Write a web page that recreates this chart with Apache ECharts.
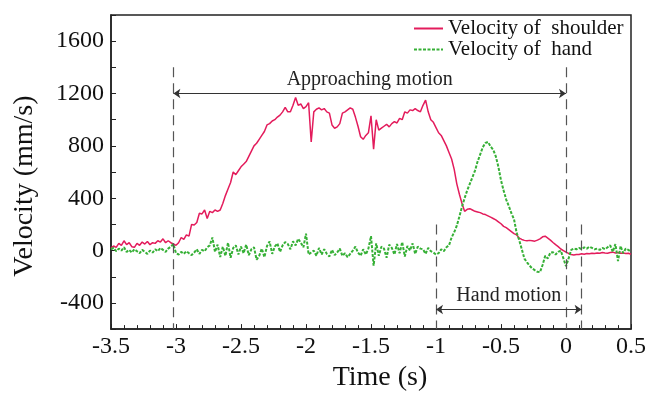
<!DOCTYPE html>
<html>
<head>
<meta charset="utf-8">
<script src="https://cdn.jsdelivr.net/npm/echarts@6/dist/echarts.min.js"></script>
<style>html,body{margin:0;padding:0;background:#fff}#c{width:650px;height:397px}</style>
</head>
<body>
<div id="c"></div>
<script>
// Time (s)
const time = [
-3.50,-3.48,-3.46,-3.44,-3.42,-3.40,-3.38,-3.36,-3.34,-3.32,
-3.30,-3.28,-3.26,-3.24,-3.22,-3.20,-3.18,-3.16,-3.14,-3.12,
-3.10,-3.08,-3.06,-3.04,-3.02,-3.00,-2.98,-2.96,-2.94,-2.92,
-2.90,-2.88,-2.86,-2.84,-2.82,-2.80,-2.78,-2.76,-2.74,-2.72,
-2.70,-2.68,-2.66,-2.64,-2.62,-2.60,-2.58,-2.56,-2.54,-2.52,
-2.50,-2.48,-2.46,-2.44,-2.42,-2.40,-2.38,-2.36,-2.34,-2.32,
-2.30,-2.28,-2.26,-2.24,-2.22,-2.20,-2.18,-2.16,-2.14,-2.12,
-2.10,-2.08,-2.06,-2.04,-2.02,-2.00,-1.98,-1.96,-1.94,-1.92,
-1.90,-1.88,-1.86,-1.84,-1.82,-1.80,-1.78,-1.76,-1.74,-1.72,
-1.70,-1.68,-1.66,-1.64,-1.62,-1.60,-1.58,-1.56,-1.54,-1.52,
-1.50,-1.48,-1.46,-1.44,-1.42,-1.40,-1.38,-1.36,-1.34,-1.32,
-1.30,-1.28,-1.26,-1.24,-1.22,-1.20,-1.18,-1.16,-1.14,-1.12,
-1.10,-1.08,-1.06,-1.04,-1.02,-1.00,-0.98,-0.96,-0.94,-0.92,
-0.90,-0.88,-0.86,-0.84,-0.82,-0.80,-0.78,-0.76,-0.74,-0.72,
-0.70,-0.68,-0.66,-0.64,-0.62,-0.60,-0.58,-0.56,-0.54,-0.52,
-0.50,-0.48,-0.46,-0.44,-0.42,-0.40,-0.38,-0.36,-0.34,-0.32,
-0.30,-0.28,-0.26,-0.24,-0.22,-0.20,-0.18,-0.16,-0.14,-0.12,
-0.10,-0.08,-0.06,-0.04,-0.02,0.00,0.02,0.04,0.06,0.08,
0.10,0.12,0.14,0.16,0.18,0.20,0.22,0.24,0.26,0.28,
0.30,0.32,0.34,0.36,0.38,0.40,0.42,0.44,0.46,0.48,
0.50
];

// Velocity of shoulder (mm/s)
const shoulder = [
20,35,25,55,40,75,45,60,30,25,
55,40,65,50,70,45,60,55,75,65,
90,60,75,60,50,40,60,100,85,120,
110,200,195,215,285,280,310,245,300,290,
310,300,310,360,420,470,520,600,580,610,
640,660,680,720,760,800,820,850,880,910,
960,970,990,1000,1020,1035,1060,1095,1060,1060,
1110,1170,1110,1120,1085,1100,1130,830,1060,1080,
1090,1075,1085,1060,1050,960,935,945,970,1050,
1060,1075,1090,1080,1020,950,870,850,880,900,
1030,775,1000,920,935,950,965,945,970,985,
975,1010,1000,1060,1050,1075,1070,1085,1070,1060,
1110,1150,1060,1000,980,940,900,880,840,800,
750,700,620,510,430,360,300,315,320,310,
300,295,290,280,275,265,255,245,235,220,
205,185,175,160,145,130,120,95,85,78,
75,78,75,72,80,90,105,110,95,80,
62,45,30,12,0,-12,-22,-30,-33,-30,
-30,-25,-28,-22,-25,-20,-22,-18,-20,-15,
-18,-20,-15,-12,-18,-15,-20,-18,-22,-20,
-28
];

// Velocity of hand (mm/s)
const hand = [
10,20,-5,15,0,25,-10,5,-15,10,
-5,-20,5,-10,-25,0,-15,10,-5,20,
5,-10,15,30,50,-20,-30,-10,-25,-5,
-20,-35,-15,10,-25,5,-5,25,40,100,
-10,45,-50,30,-40,60,-55,20,40,-30,
30,-20,45,-35,10,25,-70,-40,15,-50,
35,70,-25,30,55,-10,40,65,50,10,
70,40,90,60,25,130,-30,-15,0,-40,
20,-30,10,-25,-45,5,-35,-15,15,-40,
-20,-50,-25,0,30,-15,-40,10,-30,15,
110,-115,55,-40,30,15,-55,45,20,-30,
50,-20,65,-45,35,0,55,-25,30,15,
10,-25,20,-5,-15,-30,-20,10,-5,25,
40,100,140,190,260,336,400,460,510,560,
611,680,735,790,822,830,795,770,720,640,
536,460,390,340,285,240,137,80,10,-62,
-90,-115,-137,-150,-162,-165,-110,-40,-60,-15,
-12,-30,-10,0,-60,-120,-60,5,15,10,
20,10,25,15,30,20,10,15,5,20,
10,25,40,-10,50,-80,35,-20,15,5,
-10
];

const seriesNames = ['Velocity of  shoulder', 'Velocity of  hand'];
const yTickLabels = [-400, 0, 400, 800, 1200, 1600];

// Annotation positions (data units)
const approachStart = -3.02, approachEnd = 0, approachTop = 1400, approachArrowY = 1200;
const handStart = -1.0, handEnd = 0.12, handTop = 200, handArrowY = -450;
const yMin = -600, yMax = 1800;

const FONT = 'Liberation Serif';
const dash = {type: [10, 6], color: '#555', width: 1.2};
const arrowStyle = {type: 'solid', color: '#333', width: 1.2};

const chart = echarts.init(document.getElementById('c'), null, {renderer: 'canvas'});
chart.setOption({
  animation: false,
  backgroundColor: '#fff',
  textStyle: {fontFamily: FONT},
  grid: {left: 111, right: 19, top: 15, bottom: 61, show: true, borderColor: '#222', borderWidth: 1.5, backgroundColor: 'transparent'},
  legend: {
    orient: 'vertical', left: 413, top: 18, padding: 0, itemWidth: 29, itemHeight: 10, itemGap: 0,
    itemStyle: {opacity: 0, color: 'transparent', borderColor: 'transparent', borderWidth: 0},
    textStyle: {fontFamily: FONT, fontSize: 21, color: '#111', lineHeight: 19},
    data: seriesNames
  },
  xAxis: {
    type: 'value', min: -3.5, max: 0.5, interval: 0.5,
    name: 'Time (s)', nameLocation: 'middle', nameGap: 30,
    nameTextStyle: {fontFamily: FONT, fontSize: 28, color: '#111', padding: [0, 0, 0, 18]},
    axisLine: {onZero: false, lineStyle: {color: '#222', width: 1.5}},
    axisTick: {inside: true, length: 5, lineStyle: {color: '#222'}},
    minorTick: {show: true, splitNumber: 5, length: 4, lineStyle: {color: '#222'}},
    axisLabel: {fontFamily: FONT, fontSize: 24, color: '#111', margin: 6},
    splitLine: {show: false}
  },
  yAxis: {
    type: 'value', min: yMin, max: yMax, interval: 200,
    name: 'Velocity (mm/s)', nameLocation: 'middle', nameGap: 72,
    nameTextStyle: {fontFamily: FONT, fontSize: 28, color: '#111', padding: [0, 28, 0, 0]},
    axisLine: {onZero: false, lineStyle: {color: '#222', width: 1.5}},
    axisTick: {inside: true, length: 5, lineStyle: {color: '#222'}},
    axisLabel: {fontFamily: FONT, fontSize: 24, color: '#111', margin: 7,
      formatter: v => yTickLabels.indexOf(v) >= 0 ? String(v) : ''},
    splitLine: {show: false}
  },
  series: [
    {
      name: seriesNames[0], type: 'line', showSymbol: false, symbol: 'none',
      data: time.map((t, i) => [t, shoulder[i]]),
      lineStyle: {color: '#e31c5c', width: 1.5}, itemStyle: {color: '#e31c5c'},
      z: 3,
      markLine: {
        silent: true, symbol: 'none', animation: false,
        label: {show: false},
        data: [
          [{coord: [approachStart, approachTop], lineStyle: dash}, {coord: [approachStart, yMin]}],
          [{coord: [approachEnd, approachTop], lineStyle: dash}, {coord: [approachEnd, yMin]}],
          [{coord: [handStart, handTop], lineStyle: dash}, {coord: [handStart, yMin]}],
          [{coord: [handEnd, handTop], lineStyle: dash}, {coord: [handEnd, yMin]}],
          [{coord: [approachStart, approachArrowY], symbol: 'arrow', symbolSize: 7, lineStyle: arrowStyle,
            label: {show: true, position: 'middle', formatter: 'Approaching motion', fontFamily: FONT, fontSize: 20, color: '#222', distance: 4}},
           {coord: [approachEnd, approachArrowY], symbol: 'arrow', symbolSize: 7}],
          [{coord: [handStart, handArrowY], symbol: 'arrow', symbolSize: 7, lineStyle: arrowStyle,
            label: {show: true, position: 'middle', formatter: 'Hand motion', fontFamily: FONT, fontSize: 20, color: '#222', distance: 4}},
           {coord: [handEnd, handArrowY], symbol: 'arrow', symbolSize: 7}]
        ]
      }
    },
    {
      name: seriesNames[1], type: 'line', showSymbol: false, symbol: 'none',
      data: time.map((t, i) => [t, hand[i]]),
      lineStyle: {color: '#36b036', width: 2, type: [3, 1.5]}, itemStyle: {color: '#36b036'},
      z: 4
    }
  ]
});
</script>
</body>
</html>
